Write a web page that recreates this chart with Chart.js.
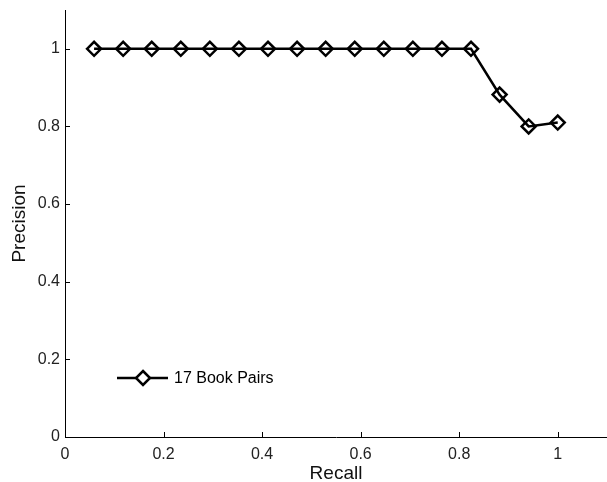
<!DOCTYPE html>
<html>
<head>
<meta charset="utf-8">
<script src="https://cdn.jsdelivr.net/npm/chart.js@4/dist/chart.umd.min.js"></script>
<style>
  html, body { margin: 0; padding: 0; background: #fff; }
  #wrap { width: 607px; height: 482px; }
</style>
</head>
<body>
<div id="wrap"><canvas id="prChart" width="607" height="482"></canvas></div>
<script>
// data
var seriesName = '17 Book Pairs';
var recall = [0.059, 0.118, 0.176, 0.235, 0.294, 0.353, 0.412, 0.471, 0.529,
              0.588, 0.647, 0.706, 0.765, 0.824, 0.882, 0.941, 1.0];
var precision = [1, 1, 1, 1, 1, 1, 1, 1, 1, 1, 1, 1, 1, 1, 0.882, 0.80, 0.81];
var xTicks = [0, 0.2, 0.4, 0.6, 0.8, 1];
var yTicks = [0, 0.2, 0.4, 0.6, 0.8, 1];

var points = recall.map(function(r, i) {
  return { x: r, y: precision[i] };
});

var FONT = 'Arial, "Liberation Sans", sans-serif';

// matlab-ish inward tick marks + legend box inside the axes
var axesExtras = {
  id: 'axesExtras',
  afterDraw: function(chart) {
    var ctx = chart.ctx;
    var xs = chart.scales.x, ys = chart.scales.y;
    var area = chart.chartArea;
    ctx.save();
    ctx.strokeStyle = '#000';
    ctx.lineWidth = 1;
    ctx.beginPath();
    xTicks.forEach(function(v) {
      var px = Math.round(xs.getPixelForValue(v)) + 0.5;
      ctx.moveTo(px, area.bottom);
      ctx.lineTo(px, area.bottom - 5);
    });
    yTicks.forEach(function(v) {
      var py = Math.round(ys.getPixelForValue(v)) + 0.5;
      ctx.moveTo(area.left, py);
      ctx.lineTo(area.left + 5, py);
    });
    ctx.stroke();

    // legend
    var ds = chart.data.datasets[0];
    var ly = 378;
    ctx.lineWidth = 2.5;
    ctx.beginPath();
    ctx.moveTo(117, ly);
    ctx.lineTo(168, ly);
    ctx.stroke();
    ctx.beginPath();
    ctx.moveTo(143, ly - 7);
    ctx.lineTo(150, ly);
    ctx.lineTo(143, ly + 7);
    ctx.lineTo(136, ly);
    ctx.closePath();
    ctx.fillStyle = '#fff';
    ctx.fill();
    ctx.stroke();
    ctx.fillStyle = '#000';
    ctx.font = '16px ' + FONT;
    ctx.textBaseline = 'middle';
    ctx.fillText(ds.label, 174, ly + 1);
    ctx.restore();
  }
};

var ctx = document.getElementById('prChart').getContext('2d');
var chart = new Chart(ctx, {
  type: 'scatter',
  data: {
    datasets: [{
      label: seriesName,
      data: points,
      showLine: true,
      borderColor: '#000',
      borderWidth: 2.5,
      pointStyle: 'rectRot',
      pointRadius: 7,
      pointBorderWidth: 2.5,
      pointBorderColor: '#000',
      pointBackgroundColor: 'rgba(255,255,255,0)',
      tension: 0
    }]
  },
  options: {
    responsive: false,
    animation: false,
    events: [],
    layout: { autoPadding: false, padding: { top: 10, right: 0, left: 0, bottom: 0 } },
    plugins: {
      legend: { display: false },
      tooltip: { enabled: false }
    },
    scales: {
      x: {
        type: 'linear',
        min: 0,
        max: 1.1,
        afterBuildTicks: function(scale) {
          scale.ticks = xTicks.map(function(v) { return { value: v }; });
        },
        afterFit: function(scale) {
          scale.height = 45;
          scale.paddingLeft = 0;
          scale.paddingRight = 0;
        },
        grid: { display: false, drawTicks: false },
        border: { display: true, color: '#000', width: 1 },
        ticks: {
          color: '#222',
          font: { family: FONT, size: 16 },
          padding: 8,
          maxRotation: 0,
          callback: function(v) { return String(v); }
        },
        title: {
          display: true,
          text: 'Recall',
          color: '#111',
          font: { family: FONT, size: 19, lineHeight: 0.85 },
          padding: { top: 0, bottom: 0 }
        }
      },
      y: {
        type: 'linear',
        min: 0,
        max: 1.1,
        afterBuildTicks: function(scale) {
          scale.ticks = yTicks.map(function(v) { return { value: v }; });
        },
        afterFit: function(scale) {
          scale.width = 65;
          scale.paddingTop = 0;
          scale.paddingBottom = 0;
        },
        grid: { display: false, drawTicks: false },
        border: { display: true, color: '#000', width: 1 },
        ticks: {
          color: '#222',
          font: { family: FONT, size: 16 },
          padding: 5,
          callback: function(v) { return String(v); }
        },
        title: {
          display: true,
          text: 'Precision',
          color: '#111',
          font: { family: FONT, size: 19 },
          padding: { top: 8, bottom: 0 }
        }
      }
    }
  },
  plugins: [axesExtras]
});
</script>
</body>
</html>
